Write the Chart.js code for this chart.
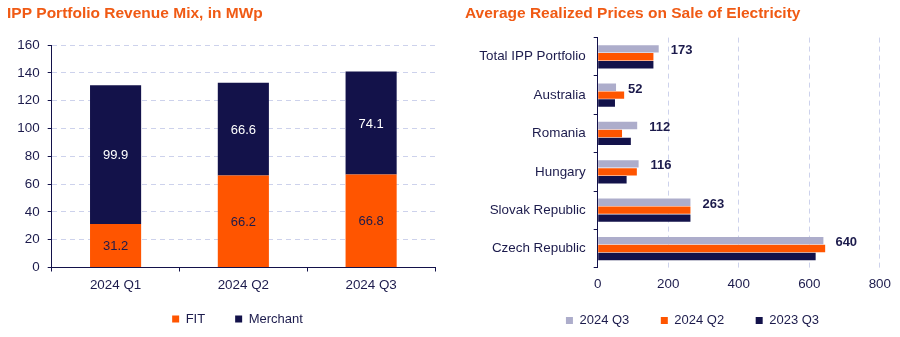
<!DOCTYPE html>
<html>
<head>
<meta charset="utf-8">
<script src="https://cdn.jsdelivr.net/npm/chart.js@4.4.1/dist/chart.umd.min.js"></script>
<style>
html,body{margin:0;padding:0;background:#fff;}
#wrap{position:relative;width:900px;height:337px;}
.box{position:absolute;top:0;width:450px;height:337px;}
</style>
</head>
<body>
<div id="wrap">
  <div class="box" style="left:0"><canvas id="left" width="450" height="337"></canvas></div>
  <div class="box" style="left:450px"><canvas id="right" width="450" height="337"></canvas></div>
</div>
<script>
// ---- data ----
const quarters = ['2024 Q1', '2024 Q2', '2024 Q3'];
const fitValues = [31.2, 66.2, 66.8];
const merchantValues = [99.9, 66.6, 74.1];

const countries = ['Total IPP Portfolio', 'Australia', 'Romania', 'Hungary', 'Slovak Republic', 'Czech Republic'];
const price2024Q3 = [173, 52, 112, 116, 263, 640];
const price2024Q2 = [158, 75, 69, 111, 263, 645];
const price2023Q3 = [158, 49, 94, 82, 263, 618];

const leftTitle = 'IPP Portfolio Revenue Mix, in MWp';
const rightTitle = 'Average Realized Prices on Sale of Electricity';

// ---- styles ----
const ORANGE = '#FF5500';
const NAVY = '#13124A';
const LAVENDER = '#ADADCB';
const TITLE = '#F05A14';
const TEXT = '#1C1B4C';
const GRID = '#CDD2EC';
const FONT = '"Liberation Sans", Arial, sans-serif';

Chart.defaults.font.family = FONT;
Chart.defaults.color = TEXT;
Chart.defaults.animation = false;

// center legend at a given x and let x-axis labels draw below the (compact) axis box
function layoutFix(center) {
  return {
    id: 'layoutFix',
    afterLayout(chart) {
      const lg = chart.legend;
      const cur = (lg.left + lg.right) / 2;
      const d = center - cur;
      lg.left += d; lg.right += d;
      const sx = chart.scales.x;
      sx.bottom = sx.top + 32;
    }
  };
}

const stackLabels = {
  id: 'stackLabels',
  afterDatasetsDraw(chart) {
    const ctx = chart.ctx;
    ctx.save();
    ctx.font = '13px ' + FONT;
    ctx.textAlign = 'center';
    ctx.textBaseline = 'middle';
    chart.data.datasets.forEach((ds, di) => {
      const meta = chart.getDatasetMeta(di);
      meta.data.forEach((bar, i) => {
        const p = bar.getCenterPoint();
        ctx.fillStyle = di === 0 ? TEXT : '#FFFFFF';
        ctx.fillText(ds.data[i].toFixed(1), p.x, p.y + 1);
      });
    });
    ctx.restore();
  }
};

const priceLabels = {
  id: 'priceLabels',
  afterDatasetsDraw(chart) {
    const ctx = chart.ctx;
    ctx.save();
    ctx.font = 'bold 13px ' + FONT;
    ctx.textAlign = 'left';
    ctx.textBaseline = 'middle';
    ctx.fillStyle = TEXT;
    const meta = chart.getDatasetMeta(0);
    meta.data.forEach((bar, i) => {
      ctx.fillText(String(chart.data.datasets[0].data[i]), bar.x + 12, bar.y + 2);
    });
    ctx.restore();
  }
};

new Chart(document.getElementById('left'), {
  type: 'bar',
  data: {
    labels: quarters,
    datasets: [
      { label: 'FIT', data: fitValues, backgroundColor: ORANGE, categoryPercentage: 0.8, barPercentage: 0.5 },
      { label: 'Merchant', data: merchantValues, backgroundColor: NAVY, categoryPercentage: 0.8, barPercentage: 0.5 }
    ]
  },
  options: {
    responsive: false,
    layout: { padding: { left: 7, right: 15, top: 0, bottom: 1.5 } },
    plugins: {
      title: {
        display: true, text: leftTitle, align: 'start', color: TITLE,
        font: { size: 15.5, weight: 'bold', family: FONT },
        padding: { top: 4, bottom: 22.4 }
      },
      legend: {
        position: 'bottom',
        labels: { boxWidth: 7, boxHeight: 7, padding: 30, color: TEXT, font: { size: 13, family: FONT } }
      },
      tooltip: { enabled: false }
    },
    scales: {
      x: {
        stacked: true,
        afterFit(s) { s.height = 15; },
        grid: { display: true, drawOnChartArea: false, drawTicks: true, tickLength: 4, tickColor: NAVY, color: NAVY },
        border: { display: true, color: NAVY, width: 1 },
        ticks: { padding: 6, color: TEXT, font: { size: 13.4, family: FONT } }
      },
      y: {
        stacked: true, min: 0, max: 160,
        afterFit(s) { s.width = 44.7; },
        grid: { color: GRID, lineWidth: 1, drawTicks: true, tickLength: 4, tickColor: NAVY },
        border: { display: true, color: NAVY, width: 1, dash: [5, 4] },
        ticks: { stepSize: 20, padding: 8, color: TEXT, font: { size: 13.4, family: FONT } }
      }
    }
  },
  plugins: [stackLabels, layoutFix(237.5)]
});

new Chart(document.getElementById('right'), {
  type: 'bar',
  data: {
    labels: countries,
    datasets: [
      { label: '2024 Q3', data: price2024Q3, backgroundColor: LAVENDER, categoryPercentage: 0.62, barPercentage: 0.93 },
      { label: '2024 Q2', data: price2024Q2, backgroundColor: ORANGE, categoryPercentage: 0.62, barPercentage: 0.93 },
      { label: '2023 Q3', data: price2023Q3, backgroundColor: NAVY, categoryPercentage: 0.62, barPercentage: 0.93 }
    ]
  },
  options: {
    indexAxis: 'y',
    responsive: false,
    layout: { padding: { left: 15, right: 17.3, top: 0, bottom: 0 } },
    plugins: {
      title: {
        display: true, text: rightTitle, align: 'start', color: TITLE,
        font: { size: 15.5, weight: 'bold', family: FONT },
        padding: { top: 4, bottom: 15 }
      },
      legend: {
        position: 'bottom',
        labels: { boxWidth: 7, boxHeight: 7, padding: 31.5, color: TEXT, font: { size: 13, family: FONT } }
      },
      tooltip: { enabled: false }
    },
    scales: {
      y: {
        afterFit(s) { s.width = 132.7; },
        grid: { display: true, drawOnChartArea: false, drawTicks: true, tickLength: 4, tickColor: NAVY, color: NAVY },
        border: { display: true, color: NAVY, width: 1 },
        ticks: { padding: 8, color: TEXT, font: { size: 13.4, family: FONT } }
      },
      x: {
        min: 0, max: 800,
        afterFit(s) { s.height = 14.8; },
        grid: { color: GRID, lineWidth: 1, drawTicks: false },
        border: { display: false, dash: [5, 4] },
        ticks: { stepSize: 200, padding: 9, color: TEXT, font: { size: 13.4, family: FONT } }
      }
    }
  },
  plugins: [priceLabels, layoutFix(242.5)]
});
</script>
</body>
</html>
